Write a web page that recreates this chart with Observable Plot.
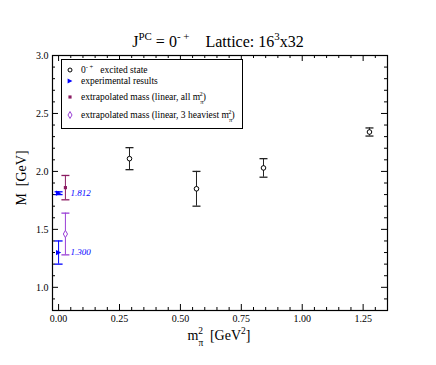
<!DOCTYPE html>
<html><head><meta charset="utf-8">
<script src="https://cdn.jsdelivr.net/npm/d3@7"></script>
<script src="https://cdn.jsdelivr.net/npm/@observablehq/plot@0.6"></script>
<style>
html,body{margin:0;padding:0;background:#fff;}
svg text{white-space:pre;font-family:"Liberation Serif","DejaVu Serif",serif !important;}
</style>
</head><body><div id="chart"></div>
<script>
// ---- data ----
const excitedX = [0.291, 0.566, 0.841, 1.276];
const excitedM = [2.11, 1.85, 2.03, 2.34];
const excitedErr = [0.095, 0.15, 0.08, 0.035];

const expX = [0.0, 0.0];
const expM = [1.812, 1.300];
const expErr = [0.012, 0.100];
const expLabels = ["1.812", "1.300"];

const extAllX = [0.028];
const extAllM = [1.86];
const extAllErr = [0.105];

const ext3X = [0.028];
const ext3M = [1.46];
const ext3Err = [0.18];

const xMajor = [0, 0.25, 0.5, 0.75, 1.0, 1.25];
const yMajor = [1.0, 1.5, 2.0, 2.5, 3.0];

const W = 436, H = 365;
const mL = 52, mR = 49, mT = 55, mB = 55;
const innerW = W - mL - mR, innerH = H - mT - mB;

const rows = (xs, ms, es) => xs.map((x, i) => ({x, m: ms[i], e: es[i]}));
const excited = rows(excitedX, excitedM, excitedErr);
const exp = rows(expX, expM, expErr).map((d, i) => ({...d, label: expLabels[i]}));
const extAll = rows(extAllX, extAllM, extAllErr);
const ext3 = rows(ext3X, ext3M, ext3Err);

const xMinor = d3.range(0, 1.351, 0.05).filter(v => !xMajor.some(t => Math.abs(t - v) < 1e-6));
const yMinor = d3.range(0.8, 3.001, 0.1).filter(v => !yMajor.some(t => Math.abs(t - v) < 1e-6));

const cap = {draw(ctx, size) { const h = Math.sqrt(size / Math.PI); ctx.moveTo(-h, 0); ctx.lineTo(h, 0); }};
const triRight = {draw(ctx, size) { const h = Math.sqrt(size / Math.PI); ctx.moveTo(h, 0); ctx.lineTo(-h, -h); ctx.lineTo(-h, h); ctx.closePath(); }};

const BLACK = "#000", BLUE = "#0000ff", MAROON = "#8b1c62", PURPLE = "#9a3fd6";
const serif = "'Liberation Serif', 'DejaVu Serif', serif";

function errMarks(data, color, capR) {
  return [
    Plot.ruleX(data, {x: "x", y1: d => d.m - d.e, y2: d => d.m + d.e, stroke: color, strokeWidth: 1}),
    Plot.dot(data, {x: "x", y: d => d.m - d.e, symbol: cap, r: capR, stroke: color, strokeWidth: 1.3}),
    Plot.dot(data, {x: "x", y: d => d.m + d.e, symbol: cap, r: capR, stroke: color, strokeWidth: 1.3})
  ];
}

const tickLen = 6, minLen = 3;
const plot = Plot.plot({
  width: W, height: H,
  marginLeft: mL, marginRight: mR, marginTop: mT, marginBottom: mB,
  style: {fontFamily: serif, fontSize: "10px", background: "#fff", color: "#000"},
  x: {domain: [-0.025, 1.35]},
  y: {domain: [0.8, 3.0]},
  marks: [
    Plot.ruleX(xMajor, {x: d => d, insetTop: innerH - tickLen, stroke: BLACK}),
    Plot.ruleX(xMinor, {x: d => d, insetTop: innerH - minLen, stroke: BLACK}),
    Plot.ruleX(xMajor, {x: d => d, insetBottom: innerH - tickLen, stroke: BLACK}),
    Plot.ruleX(xMinor, {x: d => d, insetBottom: innerH - minLen, stroke: BLACK}),
    Plot.ruleY(yMajor, {y: d => d, insetRight: innerW - tickLen, stroke: BLACK}),
    Plot.ruleY(yMinor, {y: d => d, insetRight: innerW - minLen, stroke: BLACK}),
    Plot.ruleY(yMajor, {y: d => d, insetLeft: innerW - tickLen, stroke: BLACK}),
    Plot.ruleY(yMinor, {y: d => d, insetLeft: innerW - minLen, stroke: BLACK}),
    Plot.axisX({ticks: xMajor, tickFormat: d3.format(".2f"), tickSize: 0, tickPadding: 4, label: null, fontSize: 10}),
    Plot.axisY({ticks: yMajor, tickFormat: d3.format(".1f"), tickSize: 0, tickPadding: 4, label: null, fontSize: 10}),
    Plot.frame({stroke: BLACK, strokeWidth: 1.2}),
    ...errMarks(excited, "#222", 4),
    Plot.dot(excited, {x: "x", y: "m", r: 2.3, stroke: BLACK, fill: "#fff", strokeWidth: 1}),
    ...errMarks(exp, BLUE, 4),
    Plot.dot(exp, {x: "x", y: "m", symbol: triRight, r: 2.6, fill: BLUE}),
    Plot.text(exp, {x: "x", y: "m", text: "label", dx: 12, textAnchor: "start", fill: BLUE, fontStyle: "italic", fontSize: 9}),
    ...errMarks(extAll, MAROON, 4),
    Plot.dot(extAll, {x: "x", y: "m", symbol: "square", r: 1.8, fill: MAROON}),
    ...errMarks(ext3, PURPLE, 4),
    Plot.dot(ext3, {x: "x", y: "m", symbol: "diamond", r: 2.2, stroke: PURPLE, fill: "#fff", strokeWidth: 1})
  ]
});
document.getElementById("chart").appendChild(plot);

// ---- overlay texts ----
const svg = d3.select(plot);
function rich(g, x, y, parts, size, anchor, extra) {
  const t = g.append("text").attr("x", x).attr("y", y).attr("font-family", serif)
    .attr("font-size", size).attr("text-anchor", anchor || "start").attr("fill", "#000");
  if (extra) extra(t);
  let level = 0;
  parts.forEach(p => {
    const s = t.append("tspan").text(p.t);
    const target = p.sup ? -1 : p.sub ? 1 : 0;
    const shift = size * 0.42;
    let dy = 0;
    if (target !== level) { dy = (target - level) * shift; level = target; }
    if (dy) s.attr("dy", dy);
    if (p.dx) s.attr("dx", p.dx);
    if (target !== 0) s.attr("font-size", size * 0.68);
  });
  return t;
}
rich(svg, 218, 47, [
  {t: "J"}, {t: "PC", sup: 1}, {t: " = 0"}, {t: "- +", sup: 1}, {t: "    Lattice: 16"}, {t: "3", sup: 1}, {t: "x32"}
], 16, "middle");
rich(svg, 219, 340, [
  {t: "m"}, {t: "π", sub: 1}, {t: "2", sup: 1, dx: -5}, {t: "  [GeV"}, {t: "2", sup: 1}, {t: "]"}
], 14, "middle");
rich(svg, 0, 0, [{t: "M  [GeV]"}], 14, "middle", t => t.attr("transform", "translate(26,178) rotate(-90)"));

const lg = svg.append("g");
lg.append("rect").attr("x", 61.5).attr("y", 59.5).attr("width", 181).attr("height", 69)
  .attr("fill", "#fff").attr("stroke", "#000").attr("stroke-width", 1);
const rowsY = [73, 84, 100, 118];
const lx = 70, tx = 81;
lg.append("circle").attr("cx", lx).attr("cy", rowsY[0] - 3).attr("r", 2).attr("fill", "#fff").attr("stroke", "#000");
lg.append("path").attr("transform", `translate(${lx},${rowsY[1] - 3})`).attr("d", d3.symbol(triRight, Math.PI * 2.4 * 2.4)()).attr("fill", BLUE);
lg.append("path").attr("transform", `translate(${lx},${rowsY[2] - 3})`).attr("d", d3.symbol(d3.symbolSquare, 10)()).attr("fill", MAROON);
lg.append("path").attr("transform", `translate(${lx},${rowsY[3] - 3})`).attr("d", d3.symbol(d3.symbolDiamond, 14)()).attr("fill", "#fff").attr("stroke", PURPLE);
const fs = 9.5;
rich(lg, tx, rowsY[0], [{t: "0"}, {t: "- +", sup: 1}, {t: "   excited state"}], fs);
rich(lg, tx, rowsY[1], [{t: "experimental results"}], fs);
rich(lg, tx, rowsY[2], [{t: "extrapolated mass (linear, all m"}, {t: "π", sub: 1}, {t: "2", sup: 1, dx: -4}, {t: ")"}], fs);
rich(lg, tx, rowsY[3], [{t: "extrapolated mass (linear, 3 heaviest m"}, {t: "π", sub: 1}, {t: "2", sup: 1, dx: -4}, {t: ")"}], fs);
</script>
</body></html>
